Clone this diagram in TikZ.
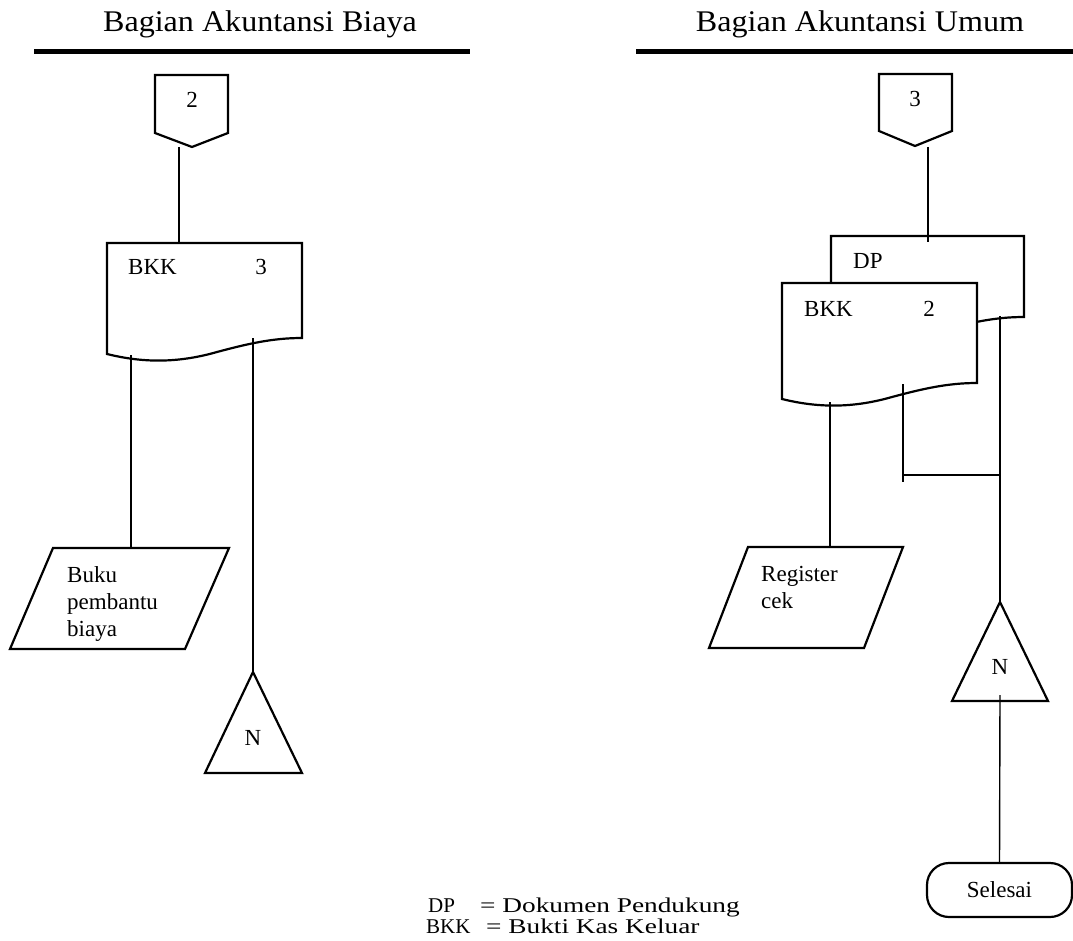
\documentclass[tikz,border=0pt]{standalone}
\usepackage{fontspec}
\setmainfont{Liberation Serif}
\newfontfamily\headfont{Liberation Serif}[FakeStretch=1.07]
\newfontfamily\widefont{Liberation Serif}[FakeStretch=1.3]

% document symbol: left x, top y, width, y of right bottom corner
\newcommand\docpath[4]{%
  (#1,#2) -- ({#1+#3},#2) -- ({#1+#3},#4)
  .. controls ({#1+#3-30},#4) and ({#1+#3-55},{#4+6}) .. ({#1+#3-85},{#4+14})
  .. controls ({#1+#3-120},{#4+24}) and ({#1+#3-155},{#4+26}) .. (#1,{#4+16})
  -- cycle}

\begin{document}
\begin{tikzpicture}[x=1pt,y=-1pt,
  outline/.style={line width=2.2pt, line join=miter},
  link/.style={line width=1.4pt},
  body/.style={font=\fontsize{23}{27}\selectfont, inner sep=0pt},
  head/.style={font=\headfont\fontsize{30}{34}\selectfont, inner sep=0pt},
  key/.style={font=\fontsize{21}{21}\selectfont, inner sep=0pt},
  keytext/.style={font=\widefont\fontsize{21}{21}\selectfont, inner sep=0pt},
  rulebar/.style={line width=4.5pt}]
\useasboundingbox (0,0) rectangle (1073,941);

% ---------- column headers ----------
\node[head, anchor=base] (hBiaya) at (260,32) {Bagian Akuntansi Biaya};
\node[head, anchor=base] (hUmum) at (860,32) {Bagian Akuntansi Umum};
\draw[rulebar] (34,51.5) -- (470,51.5);
\draw[rulebar] (636,51.5) -- (1073,51.5);

% ================= Bagian Akuntansi Biaya =================
% off-page connector 2
\draw[outline] (155,75) -- (228,75) -- (228,133) -- (192,147) -- (155,133) -- cycle;
\node[body] (conA) at (192,100) {2};
\coordinate (conA-out) at (179,147);

% BKK copy 3
\draw[outline] \docpath{107}{243}{195}{338};
\node[body, anchor=west] (bkkA) at (128,267) {BKK};
\node[body] (bkkA-no) at (261,267) {3};
\coordinate (bkkA-in) at (179,243);
\coordinate (bkkA-outL) at (131,355);
\coordinate (bkkA-outR) at (253,338);

% record book
\draw[outline] (53,548) -- (229,548) -- (185,649) -- (10,649) -- cycle;
\coordinate (bukuA-in) at (131,548);
\node[body, anchor=north west, align=left] (bukuA) at (67,566) {Buku\\pembantu\\biaya};

% file N
\draw[outline] (253,672) -- (302,773) -- (205,773) -- cycle;
\coordinate (fileA-in) at (253,672);
\node[body] (fileA) at (253,738) {N};

\draw[link] (conA-out) -- (bkkA-in);
\draw[link] (bkkA-outL) -- (bukuA-in);
\draw[link] (bkkA-outR) -- (fileA-in);

% ================= Bagian Akuntansi Umum =================
% off-page connector 3
\draw[outline] (879,74) -- (952,74) -- (952,131) -- (915,146) -- (879,131) -- cycle;
\node[body] (conB) at (915,99) {3};
\coordinate (conB-out) at (928,147);

% DP behind BKK copy 2
\draw[outline] \docpath{831}{236}{193}{317};
\node[body, anchor=west] (dpB) at (853,261) {DP};
\draw[outline, fill=white] \docpath{782}{283}{195}{383};
\node[body, anchor=west] (bkkB) at (804,309) {BKK};
\node[body] (bkkB-no) at (929,309) {2};
\coordinate (dpB-in) at (928,242);
\coordinate (bkkB-outL) at (830,402);
\coordinate (bkkB-outR) at (903,384);
\coordinate (dpB-out) at (1000,316);
\coordinate (joinL) at (903,482);
\coordinate (joinL-h) at (903,475);
\coordinate (joinR) at (1000,475);

% check register
\draw[outline] (748,547) -- (903,547) -- (864,648) -- (709,648) -- cycle;
\coordinate (regB-in) at (830,547);
\node[body, anchor=north west, align=left] (regB) at (761,566) {Register\\cek};

% file N
\draw[outline] (1000,602) -- (1048,701) -- (952,701) -- cycle;
\coordinate (fileB-in) at (1000,602);
\coordinate (fileB-out) at (1000,695);
\node[body] (fileB) at (1000,667) {N};

% terminator
\node[draw, outline, body, rounded corners=22pt, minimum width=145pt,
      minimum height=54pt] (selesai) at (999.5,890) {Selesai};

\draw[link] (conB-out) -- (dpB-in);
\draw[link] (bkkB-outL) -- (regB-in);
\draw[link] (bkkB-outR) -- (joinL);
\draw[link] (joinL-h) -- (joinR);
\draw[link] (dpB-out) -- (fileB-in);
\draw[link] (fileB-out) -- (selesai.north);

% ---------- legend ----------
\node[key, anchor=base west] (lgDP) at (428,912) {DP};
\node[keytext, anchor=base west] (lgDPtxt) at (480,912) {= Dokumen Pendukung};
\node[key, anchor=base west] (lgBKK) at (426,933) {BKK};
\node[keytext, anchor=base west] (lgBKKtxt) at (486,933) {= Bukti Kas Keluar};
\end{tikzpicture}
\end{document}
